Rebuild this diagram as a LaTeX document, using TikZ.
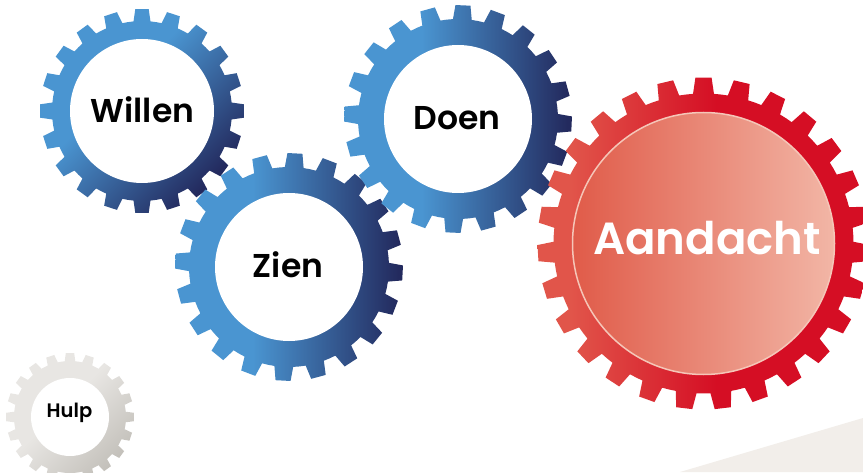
\documentclass[tikz,border=0pt]{standalone}
\usepackage{fontspec}
\setmainfont{Poppins}[BoldFont={Poppins SemiBold}]

\definecolor{gearlight}{HTML}{4A95D1}
\definecolor{geardark}{HTML}{232A5E}
\definecolor{redlight}{HTML}{E1554A}
\definecolor{reddark}{HTML}{D50E24}
\definecolor{hubleft}{HTML}{E05B49}
\definecolor{hubright}{HTML}{F2B6A6}
\definecolor{hubrim}{HTML}{F5C6B8}
\definecolor{greylight}{HTML}{E8E6E3}
\definecolor{greydark}{HTML}{C3C0BA}
\definecolor{floorgrey}{HTML}{F2EEEA}

\pgfdeclarehorizontalshading{bluegear}{100bp}{color(0bp)=(gearlight); color(42bp)=(gearlight); color(74bp)=(geardark); color(100bp)=(geardark)}
\pgfdeclarehorizontalshading{redgear}{100bp}{color(0bp)=(redlight); color(30bp)=(redlight); color(52bp)=(reddark); color(100bp)=(reddark)}
\pgfdeclarehorizontalshading{greygear}{100bp}{color(0bp)=(greylight); color(45bp)=(greylight); color(75bp)=(greydark); color(100bp)=(greydark)}

% centre, teeth, root radius, tip radius, offset, shading
\newcommand{\gear}[6]{%
  \pgfmathsetmacro{\gearpitch}{360/#2}
  \shade[#6, shift={(#1)}] ({#5-0.5*\gearpitch}:#3)
  \foreach \k in {1,...,#2}{
    -- ({#5+(\k-1)*\gearpitch-0.3*\gearpitch}:#3)
    -- ({#5+(\k-1)*\gearpitch-0.21*\gearpitch}:#4)
    -- ({#5+(\k-1)*\gearpitch+0.21*\gearpitch}:#4)
    -- ({#5+(\k-1)*\gearpitch+0.3*\gearpitch}:#3)
    -- ({#5+(\k-1)*\gearpitch+0.5*\gearpitch}:#3)
  } -- cycle;
}

\tikzset{
  gearword/.style={anchor=base, inner sep=0pt, text=black, font=\fontsize{33}{38}\selectfont\bfseries},
  bigword/.style={anchor=base, inner sep=0pt, text=white, font=\fontsize{45}{50}\selectfont\bfseries},
  smallword/.style={anchor=base, inner sep=0pt, text=black, font=\fontsize{19.5}{23}\selectfont\bfseries}
}

\begin{document}
\begin{tikzpicture}[x=1pt, y=1pt]
\useasboundingbox (0,0) rectangle (863,472);

% FLOOR
\fill[floorgrey] (680,0) -- (863,54) -- (863,0) -- cycle;

% CENTRES
\coordinate (willen) at (142,361);
\coordinate (zien) at (289,205);
\coordinate (doen) at (458,353);
\coordinate (aandacht) at (703.5,228.5);
\coordinate (hulp) at (70,55);

% GEARS
\gear{willen}{20}{90}{102}{0}{shading=bluegear, shading angle=-45}
\gear{zien}{20}{100}{114}{-3}{shading=bluegear}
\gear{doen}{20}{100}{114}{-2.5}{shading=bluegear}
\gear{aandacht}{27}{150}{166}{90}{shading=redgear}
\gear{hulp}{20}{56}{64}{0}{shading=greygear, shading angle=-45}

% HUBS
\foreach \c/\r in {willen/72, zien/74, doen/74, hulp/39}{
  \fill[white] (\c) circle (\r);
}
\shadedraw[left color=hubleft, right color=hubright, draw=hubrim, line width=1.5] (aandacht) circle (131);

% WORDS
\node[gearword] (willentext) at (142.5,349) {Willen};
\node[gearword] (zientext) at (288,194) {Zien};
\node[gearword] (doentext) at (457,342) {Doen};
\node[bigword] (aandachttext) at (707,217) {Aandacht};
\node[smallword] (hulptext) at (69.5,55) {Hulp};

\end{tikzpicture}
\end{document}
